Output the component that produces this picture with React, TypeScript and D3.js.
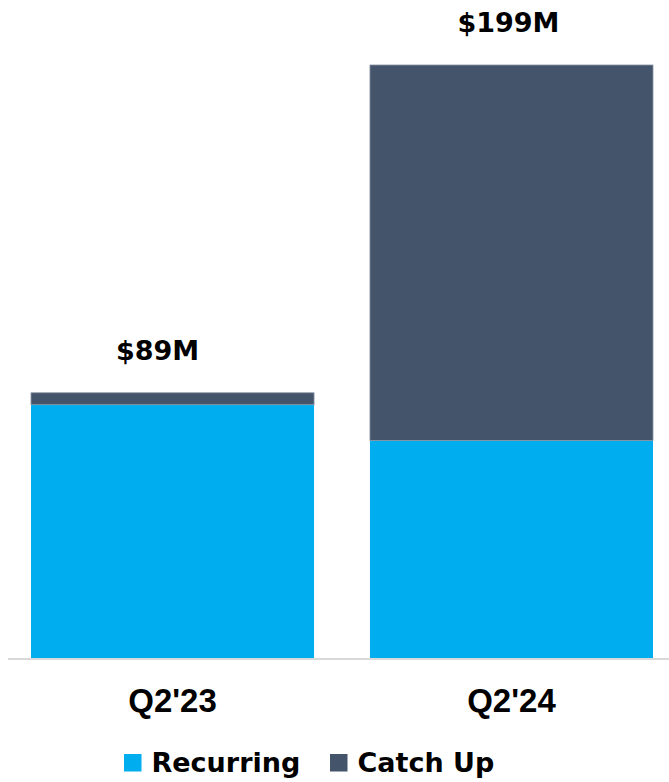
import React from "react";
import * as d3 from "d3";

const categories = ["Q2'23", "Q2'24"];
const recurring = [85, 73];
const catchUp = [4, 126];
const totalLabels = ["$89M", "$199M"];
const seriesNames = ["Recurring", "Catch Up"];
const seriesColors = ["#00AEEF", "#44546A"];

const W = 669;
const H = 782;

export default function App() {
  const x = d3.scaleBand<string>().domain(categories).range([31, 653]).paddingInner(0.165).paddingOuter(0);
  const y = d3.scaleLinear().domain([0, 199]).range([658, 65]);

  const rows = categories.map((c, i) => ({ cat: c, Recurring: recurring[i], "Catch Up": catchUp[i] }));
  const stack = d3.stack<any>().keys(seriesNames)(rows);

  return (
    <svg width={W} height={H} style={{ position: "absolute", left: 0, top: 0, background: "#fff" }}>
      {stack.map((layer, si) => (
        <g key={si}>
          {layer.map((d, i) => (
            <rect
              key={i}
              x={x(categories[i])!}
              y={y(d[1])}
              width={x.bandwidth()}
              height={y(d[0]) - y(d[1])}
              fill={seriesColors[si]}
              stroke={si === 1 ? "#8a94a3" : "none"}
              strokeWidth={si === 1 ? 0.8 : 0}
            />
          ))}
        </g>
      ))}
      <line x1={8} x2={669} y1={659} y2={659} stroke="#d9d9d9" strokeWidth={2} />
      {categories.map((c, i) => (
        <text
          key={c}
          x={x(c)! + x.bandwidth() / 2}
          y={712}
          textAnchor="middle"
          fontFamily="Liberation Sans, Arial, sans-serif"
          fontWeight="bold"
          fontSize={33}
          fill="#000"
        >
          {c}
        </text>
      ))}
      {categories.map((c, i) => (
        <text
          key={"t" + c}
          x={x(c)! + x.bandwidth() / 2 - (i === 0 ? 15 : 3)}
          y={y(recurring[i] + catchUp[i]) - 33}
          textAnchor="middle"
          fontFamily="DejaVu Sans, sans-serif"
          fontWeight="bold"
          fontSize={27}
          fill="#000"
        >
          {totalLabels[i]}
        </text>
      ))}
      <g>
        {seriesNames.map((s, i) => {
          const lx = i === 0 ? 124 : 330;
          return (
            <g key={s}>
              <rect x={lx} y={754} width={17.5} height={17.5} fill={seriesColors[i]} />
              <text
                x={lx + 27.5}
                y={772}
                fontFamily="DejaVu Sans, sans-serif"
                fontWeight="bold"
                fontSize={27}
                fill="#000"
              >
                {s}
              </text>
            </g>
          );
        })}
      </g>
    </svg>
  );
}
